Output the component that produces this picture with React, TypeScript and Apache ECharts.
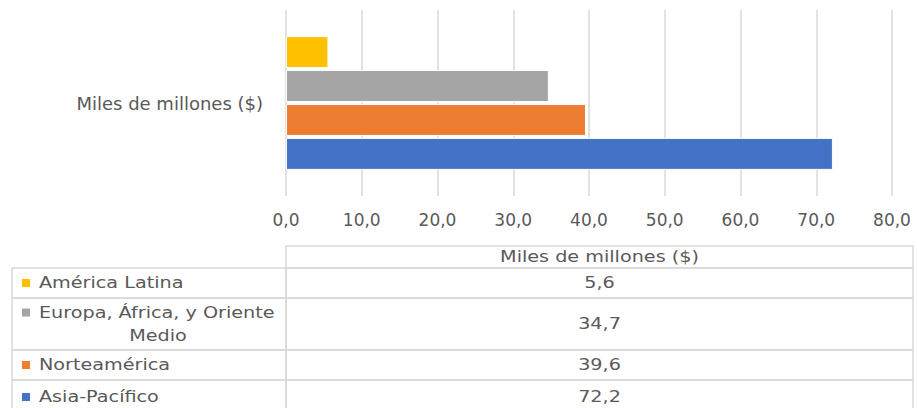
import React, { useEffect, useRef } from 'react';
import * as echarts from 'echarts';

const categories = ['Miles de millones ($)'];
const regions = ['América Latina', 'Europa, África, y Oriente Medio', 'Norteamérica', 'Asia-Pacífico'];
const regionLabelLines = [['América Latina'], ['Europa, África, y Oriente', 'Medio'], ['Norteamérica'], ['Asia-Pacífico']];
const values = [5.6, 34.7, 39.6, 72.2];
const colors = ['#FFC000', '#A5A5A5', '#ED7D31', '#4472C4'];
const xMin = 0;
const xMax = 80;
const xInterval = 10;

const FONT = 'DejaVu Sans';
const TXT = '#595959';
const LINE = '#d9d9d9';
const SX = 1.2;

const fmt = (v: number) => v.toFixed(1).replace('.', ',');

export default function App() {
  const ref = useRef<HTMLDivElement>(null);
  useEffect(() => {
    if (!ref.current) return;
    const chart = echarts.init(ref.current, null, { renderer: 'svg' });

    const leftX = 12;
    const midX = 286;
    const rightX = 913;
    const headerTop = 246;
    const rowBounds = [268, 298, 350, 380, 414];
    const font = `16px "${FONT}"`;
    const graphics: any[] = [];
    const txt = (x: number, y: number, text: string, align: string) => ({
      type: 'text',
      x,
      y,
      scaleX: SX,
      style: { text, fill: TXT, font, align, verticalAlign: 'middle' },
    });
    graphics.push({
      type: 'rect',
      shape: { x: midX, y: headerTop, width: rightX - midX, height: rowBounds[0] - headerTop },
      style: { fill: 'none', stroke: LINE, lineWidth: 1.5 },
    });
    graphics.push(txt((midX + rightX) / 2, (headerTop + rowBounds[0]) / 2, categories[0], 'center'));
    regions.forEach((name, i) => {
      const top = rowBounds[i];
      const bot = rowBounds[i + 1];
      graphics.push({
        type: 'rect',
        shape: { x: leftX, y: top, width: midX - leftX, height: bot - top },
        style: { fill: 'none', stroke: LINE, lineWidth: 1.5 },
      });
      graphics.push({
        type: 'rect',
        shape: { x: midX, y: top, width: rightX - midX, height: bot - top },
        style: { fill: 'none', stroke: LINE, lineWidth: 1.5 },
      });
      const lines = regionLabelLines[i];
      const cy = i === 3 ? 397 : (top + bot) / 2;
      const lh = 23;
      const y0 = cy - ((lines.length - 1) * lh) / 2;
      graphics.push({
        type: 'rect',
        shape: { x: 22, y: y0 - 4, width: 8, height: 8 },
        style: { fill: colors[i] },
      });
      lines.forEach((ln, j) => {
        graphics.push(txt(j === 0 ? 39 : 158, y0 + j * lh, ln, j === 0 ? 'left' : 'center'));
      });
      graphics.push(txt((midX + rightX) / 2, cy, fmt(values[i]), 'center'));
    });

    chart.setOption({
      animation: false,
      backgroundColor: '#ffffff',
      grid: { left: 286, right: 25, top: 10, bottom: 212, containLabel: false },
      xAxis: {
        type: 'value',
        min: xMin,
        max: xMax,
        interval: xInterval,
        axisLine: { show: false },
        axisTick: { show: false },
        splitLine: { show: true, lineStyle: { color: LINE, width: 1.5 } },
        axisLabel: { formatter: (v: number) => fmt(v), color: TXT, fontFamily: FONT, fontSize: 17, margin: 15 },
      },
      yAxis: {
        type: 'category',
        data: categories,
        axisLine: { show: false },
        axisTick: { show: false },
        axisLabel: { color: TXT, fontFamily: FONT, fontSize: 18, margin: 23 },
      },
      series: regions.map((name, i) => ({
        type: 'bar',
        name,
        data: [values[i]],
        barWidth: 32,
        barGap: '6%',
        itemStyle: { color: colors[i], borderColor: '#ffffff', borderWidth: 1 },
      })),
      graphic: graphics,
    });
    return () => chart.dispose();
  }, []);
  return <div ref={ref} style={{ position: 'fixed', left: 0, top: 0, width: 917, height: 408 }} />;
}
